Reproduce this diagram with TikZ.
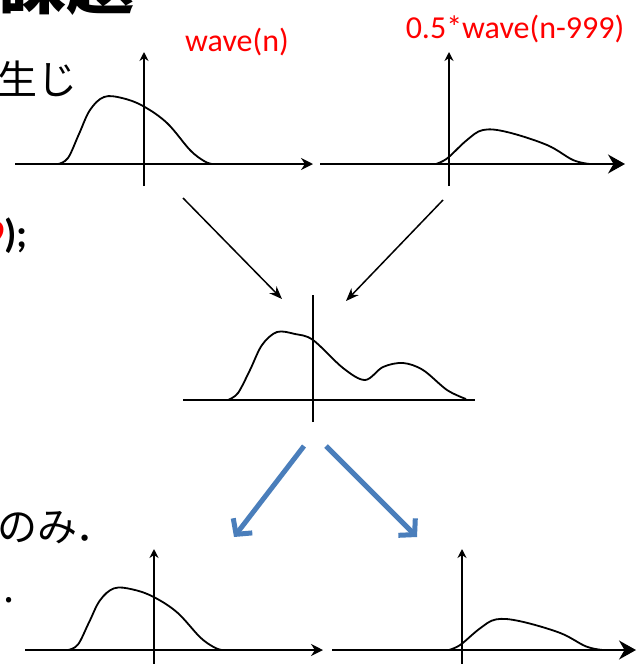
\documentclass[tikz,border=0pt]{standalone}
\usepackage{fontspec}
\setmainfont{Carlito}
\newfontfamily\jpfont{Noto Sans CJK JP}
\usetikzlibrary{arrows.meta}
\definecolor{arrowblue}{RGB}{74,126,187}
\tikzset{
  axis/.style={line width=1.6pt, black},
  axisarrow/.style={axis, -{Stealth[length=12pt, width=12pt]}},
  bigaxisarrow/.style={axis, -{Stealth[length=17pt, width=19pt]}},
  upaxis/.style={axis, -{Stealth[length=9pt, width=9pt]}},
  wave/.style={line width=1.8pt, black, line join=round},
  flow/.style={line width=1.5pt, black, -{Stealth[length=13pt, width=10pt]}},
  split/.style={line width=5pt, arrowblue, -{Straight Barb[length=11pt, width=24pt, line width=5pt]}},
  label/.style={text=red, font=\fontsize{32}{34}\selectfont, inner sep=0pt},
  body/.style={font=\jpfont\fontsize{40}{44}\selectfont, inner sep=0pt},
}
% wave shapes, relative to the origin of their axes (y up)
\newcommand{\bigwave}{(-86,0) (-76,6) (-65,30) (-54,54) (-40,67) (-22,66) (-1,58) (23,41) (46,14) (60,3) (68,0)}
\newcommand{\smallwave}{(-13,0) (-6,3) (1,8) (18,24) (34,34) (58,32) (98,19) (124,4) (141,0)}

\begin{document}
\begin{tikzpicture}[x=1pt, y=-1pt]
  \clip (0,0) rectangle (640,664);

  % cut-off slide text
  \node[body, font=\jpfont\bfseries\fontsize{68}{70}\selectfont, anchor=base west] (title) at (-2,8) {課題};
  \node[body, anchor=base west] (line1) at (-3,94) {生じ};
  \node[inner sep=0pt, font=\bfseries\fontsize{40}{44}\selectfont, anchor=base west] (line2) at (-16,247) {\textcolor{red}{9});};
  \node[body, anchor=base west] (line3) at (-3,541) {のみ．};
  \node[body, anchor=base west] (line4) at (3,602) {.};

  % labels
  \node[label] (lblA) at (237,42) {wave(n)};
  \node[label] (lblB) at (515,29) {0.5*wave(n-999)};

  % top left: wave(n)
  \draw[axisarrow] (15,164) -- (313,164);
  \draw[upaxis] (144,186) -- (144,52);
  \begin{scope}[shift={(144,164)}, yscale=-1]
    \draw[wave] plot[smooth, tension=0.6] coordinates {\bigwave};
  \end{scope}

  % top right: shifted copy
  \draw[bigaxisarrow] (320,164) -- (625,164);
  \draw[upaxis] (449,186) -- (449,52);
  \begin{scope}[shift={(449,164)}, yscale=-1]
    \draw[wave] plot[smooth, tension=0.6] coordinates {\smallwave};
  \end{scope}

  % sum
  \draw[axis] (183,400) -- (475,400);
  \draw[axis] (313,422) -- (313,295);
  \draw[wave] plot[smooth, tension=0.55] coordinates {(228,400) (238,393) (250,370) (262,345) (277,332) (295,334) (313,340) (343,368) (365,380) (383,367) (403,363) (423,370) (447,390) (466,399)};

  % bottom left
  \draw[axisarrow] (25,650) -- (323,650);
  \draw[upaxis] (154,670) -- (154,549);
  \begin{scope}[shift={(154,650)}, yscale=-0.92]
    \draw[wave] plot[smooth, tension=0.6] coordinates {\bigwave};
  \end{scope}

  % bottom right
  \draw[bigaxisarrow] (332,650) -- (636,650);
  \draw[upaxis] (462,670) -- (462,549);
  \begin{scope}[shift={(462,650)}, yscale=-0.9]
    \draw[wave] plot[smooth, tension=0.6] coordinates {\smallwave};
  \end{scope}

  % connectors
  \coordinate (fromA) at (183,198);
  \coordinate (fromB) at (443,200);
  \coordinate (toSumA) at (282,299);
  \coordinate (toSumB) at (346,301);
  \coordinate (sumL) at (304,446);
  \coordinate (sumR) at (326,446);
  \coordinate (outA) at (234,537);
  \coordinate (outB) at (417,537);
  \draw[flow] (fromA) -- (toSumA);
  \draw[flow] (fromB) -- (toSumB);
  \draw[split] (sumL) -- (outA);
  \draw[split] (sumR) -- (outB);
\end{tikzpicture}
\end{document}
